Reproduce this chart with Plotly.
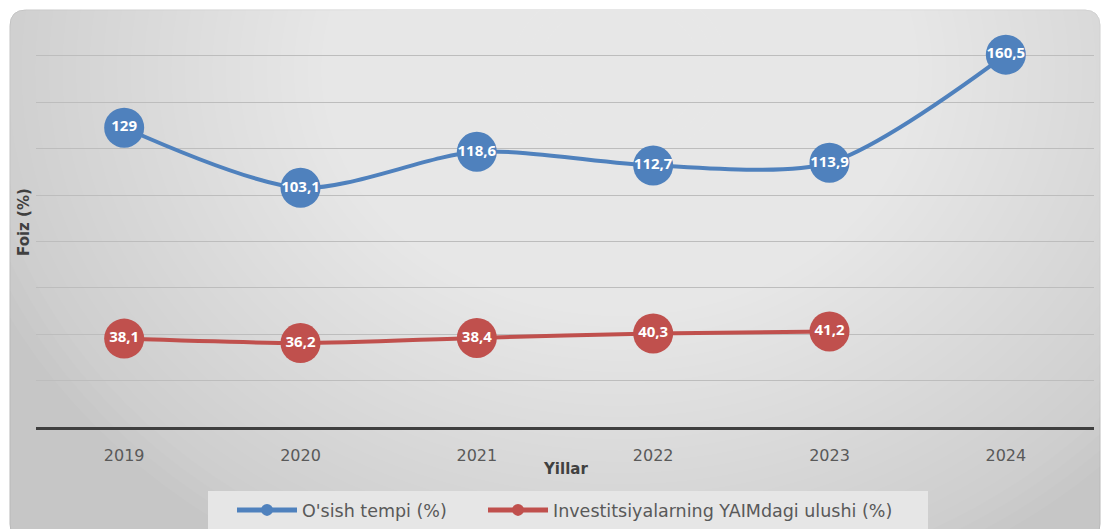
import plotly.graph_objects as go

years = ["2019", "2020", "2021", "2022", "2023", "2024"]
growth = [129, 103.1, 118.6, 112.7, 113.9, 160.5]
invest_share = [38.1, 36.2, 38.4, 40.3, 41.2, None]
growth_name = "O'sish tempi (%)"
invest_name = "Investitsiyalarning YAIMdagi ulushi (%)"
x_title = "Yillar"
y_title = "Foiz (%)"

W, H = 1108, 529
ML, MR, MT, MB = 36, 14, 21, 102
PW, PH = W - ML - MR, H - MT - MB


def xp(px):
    return (px - ML) / PW


def yp(py):
    return (H - MB - py) / PH


def fmt(v):
    return "" if v is None else str(v).replace(".", ",")


BLUE = "#4F81BD"
RED = "#C0504D"
FONT = "Open Sans"
TFONT = "DejaVu Sans"

fig = go.Figure()
fig.add_trace(go.Scatter(
    x=years, y=growth, name=growth_name, legend="legend",
    mode="lines+markers+text",
    line=dict(color=BLUE, width=4, shape="spline", smoothing=0.8),
    marker=dict(color=BLUE, size=40),
    text=[fmt(v) for v in growth], textposition="middle center",
    textfont=dict(color="white", size=15, family=FONT, weight="bold"),
))
fig.add_trace(go.Scatter(
    x=years, y=invest_share, name=invest_name, legend="legend2",
    mode="lines+markers+text",
    line=dict(color=RED, width=4, shape="spline", smoothing=0.8),
    marker=dict(color=RED, size=40),
    text=[fmt(v) for v in invest_share], textposition="middle center",
    textfont=dict(color="white", size=15, family=FONT, weight="bold"),
))

shapes = []
# rounded chart background
x0, x1, y0, y1, r = 10, 1100, 10, 540, 16
path = (
    f"M {xp(x0 + r)} {yp(y0)} L {xp(x1 - r)} {yp(y0)} "
    f"Q {xp(x1)} {yp(y0)} {xp(x1)} {yp(y0 + r)} L {xp(x1)} {yp(y1 - r)} "
    f"Q {xp(x1)} {yp(y1)} {xp(x1 - r)} {yp(y1)} L {xp(x0 + r)} {yp(y1)} "
    f"Q {xp(x0)} {yp(y1)} {xp(x0)} {yp(y1 - r)} L {xp(x0)} {yp(y0 + r)} "
    f"Q {xp(x0)} {yp(y0)} {xp(x0 + r)} {yp(y0)} Z"
)
shapes.append(dict(type="path", path=path, xref="paper", yref="paper",
                   fillcolor="#c6c6c6", line=dict(color="#b8b8b8", width=1),
                   layer="below"))
# smooth radial-like gradient
cx, cy = 620, 70
n = 45
for i in range(n):
    f = 1.0 - i * (0.9 / n)
    rx, ry = 680 * f, 560 * f
    shapes.append(dict(type="circle", xref="paper", yref="paper",
                       x0=xp(cx - rx), x1=xp(cx + rx), y0=yp(cy - ry), y1=yp(cy + ry),
                       fillcolor="white", opacity=0.04, line=dict(width=0),
                       layer="below"))
# legend box
shapes.append(dict(type="rect", xref="paper", yref="paper",
                   x0=xp(208), x1=xp(928), y0=yp(491), y1=yp(545),
                   fillcolor="#e6e6e6", line=dict(width=0), layer="below"))

legend_common = dict(orientation="h", yanchor="middle", y=yp(510),
                     xanchor="left", bgcolor="rgba(0,0,0,0)",
                     font=dict(size=17.5, color="#595959", family=TFONT),
                     itemsizing="constant", itemwidth=60)

fig.update_layout(
    width=W, height=H,
    margin=dict(l=ML, r=MR, t=MT, b=MB, autoexpand=False),
    paper_bgcolor="white", plot_bgcolor="rgba(0,0,0,0)",
    font=dict(family=TFONT, color="#595959"),
    shapes=shapes,
    showlegend=True,
    legend=dict(x=xp(232), **legend_common),
    legend2=dict(x=xp(483), **legend_common),
    xaxis=dict(range=[-0.5, 5.5], showgrid=False, showline=True,
               linecolor="#3f3f3f", linewidth=3, ticks="",
               tickfont=dict(size=16, color="#595959", family=TFONT),
               ticklabelstandoff=12, fixedrange=True),
    yaxis=dict(range=[0, 175], dtick=20, showgrid=True, gridcolor="#bdbdbd",
               gridwidth=1, showticklabels=False, zeroline=False, ticks="",
               fixedrange=True),
    annotations=[
        dict(text=x_title, xref="paper", yref="paper", x=xp(565), y=yp(469),
             xanchor="center", yanchor="middle", showarrow=False,
             font=dict(size=15, color="#404040", family=TFONT, weight="bold")),
        dict(text=y_title, xref="paper", yref="paper", x=xp(24), y=yp(222),
             xanchor="center", yanchor="middle", textangle=-90, showarrow=False,
             font=dict(size=15, color="#404040", family=TFONT, weight="bold")),
    ],
)

fig.write_html("out.html", config={"displayModeBar": False},
               post_script="document.body.style.margin='0';")
